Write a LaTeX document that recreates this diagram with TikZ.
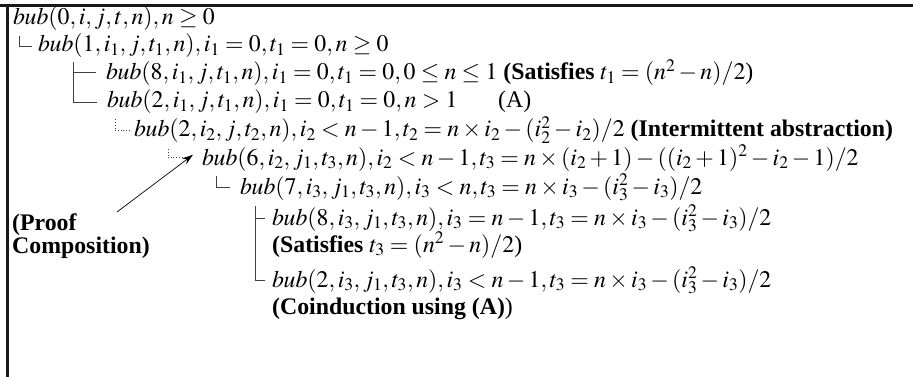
\documentclass[tikz,border=0pt]{standalone}
\usepackage{mathptmx}
\usepackage{fontspec}
\setmainfont{Liberation Serif}
\usetikzlibrary{arrows.meta}
\begin{document}
\begin{tikzpicture}[x=1pt,y=-1pt,
  txt/.style={anchor=base west, inner sep=0pt, font=\fontsize{23.8}{28}\selectfont},
  tree/.style={draw=black!75, line width=0.8pt},
  dtree/.style={draw=black!75, line width=0.8pt, dotted},
  frame/.style={draw=black!90, line width=3pt}]
\useasboundingbox (0,0) rectangle (913,377);
\draw[frame] (0,5.5) -- (913,5.5);
\draw[frame] (7.5,5.5) -- (7.5,377);

\node[txt] (l1) at (13,25) {$bub(0,i,j,t,n), n \geq 0$};
\node[txt] (l2) at (38,52) {$bub(1,i_1,j,t_1,n), i_1 = 0, t_1 = 0, n \geq 0$};
\node[txt] (l3) at (106,80) {$bub(8,i_1,j,t_1,n), i_1 = 0, t_1 = 0, 0 \leq n \leq 1$ \textbf{(Satisfies} $t_1 = (n^2-n)/2$)};
\node[txt] (l4) at (107,108) {$bub(2,i_1,j,t_1,n), i_1 = 0, t_1 = 0, n > 1$};
\node[txt] (la) at (498,108) {(A)};
\node[txt] (l5) at (134,137) {$bub(2,i_2,j,t_2,n), i_2 < n-1, t_2 = n \times i_2 - (i_2^2 - i_2)/2$ \textbf{(Intermittent abstraction)}};
\node[txt] (l6) at (202,165) {$bub(6,i_2,j_1,t_3,n), i_2 < n-1, t_3 = n \times (i_2+1) - ((i_2+1)^2 - i_2 - 1)/2$};
\node[txt] (l7) at (240,194) {$bub(7,i_3,j_1,t_3,n), i_3 < n, t_3 = n \times i_3 - (i_3^2 - i_3)/2$};
\node[txt] (l8) at (272,225) {$bub(8,i_3,j_1,t_3,n), i_3 = n-1, t_3 = n \times i_3 - (i_3^2 - i_3)/2$};
\node[txt] (l9) at (272,252) {\textbf{(Satisfies} $t_3 = (n^2-n)/2$)};
\node[txt] (l10) at (272,287) {$bub(2,i_3,j_1,t_3,n), i_3 < n-1, t_3 = n \times i_3 - (i_3^2 - i_3)/2$};
\node[txt] (l11) at (272,314) {\textbf{(Coinduction using (A)})};
\node[txt] (pc1) at (12,230) {\textbf{(Proof}};
\node[txt] (pc2) at (12,253) {\textbf{Composition)}};
\coordinate (pca) at (117,212);

\draw[tree] ([xshift=6pt,yshift=-5pt]l1.south west) |- ([xshift=-6pt]l2.west);
\draw[tree] ([xshift=35pt,yshift=-4pt]l2.south west) |- ([xshift=-10pt]l3.west);
\draw[tree] ([xshift=35pt,yshift=-4pt]l2.south west) |- ([xshift=-10pt]l4.west);
\draw[dtree] ([xshift=8pt,yshift=-5pt]l4.south west) |- ([xshift=-4pt]l5.west);
\draw[dtree] ([xshift=34pt,yshift=-5pt]l5.south west) |- ([xshift=-17pt]l6.west);
\draw[tree] ([xshift=14pt,yshift=-5pt]l6.south west) |- ([xshift=-10pt]l7.west);
\draw[tree] ([xshift=15pt,yshift=-5pt]l7.south west) |- ([xshift=-7pt]l8.west);
\draw[tree] ([xshift=15pt,yshift=-5pt]l7.south west) |- ([xshift=-7pt]l10.west);
\draw[-{Stealth[length=11pt,width=7pt]}, line width=0.7pt] (pca) -- ([xshift=-9pt,yshift=3pt]l6.west);
\end{tikzpicture}
\end{document}
